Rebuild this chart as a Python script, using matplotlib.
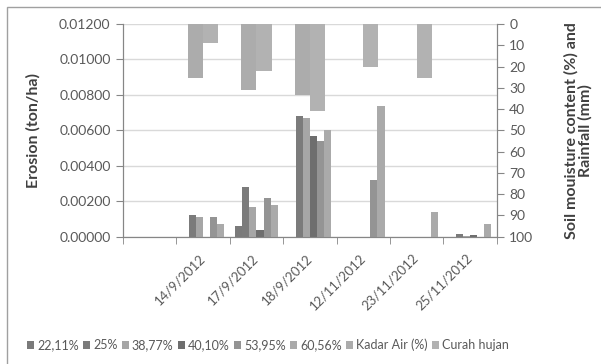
import matplotlib.pyplot as plt
import matplotlib.patches as mpatches
import numpy as np

plt.rcParams['font.family'] = ['Lato', 'DejaVu Sans']

# dates (first category is left empty)
dates = ['', '14/9/2012', '17/9/2012', '18/9/2012', '12/11/2012', '23/11/2012', '25/11/2012']

# erosion (ton/ha) per slope treatment
e_2211 = [0, 0, 0.0006, 0, 0, 0, 0]
e_25 = [0, 0.0012, 0.0028, 0.0068, 0, 0, 0.00013]
e_3877 = [0, 0.0011, 0.0017, 0.0067, 0, 0, 0.00005]
e_4010 = [0, 0, 0.00036, 0.0057, 0, 0, 0.0001]
e_5395 = [0, 0.0011, 0.0022, 0.0054, 0.0032, 0, 0]
e_6056 = [0, 0.0007, 0.0018, 0.0060, 0.0074, 0.0014, 0.0007]

# secondary axis: soil moisture (%) and rainfall (mm)
kadar_air = [0, 25.5, 31, 33.5, 0, 0, 0]
curah_hujan = [0, 9, 22, 41, 20, 25.5, 0]

erosion = [e_2211, e_25, e_3877, e_4010, e_5395, e_6056]
erosion_labels = ['22,11%', '25%', '38,77%', '40,10%', '53,95%', '60,56%']
erosion_colors = ['#7a7a7a', '#7b7b7b', '#a6a6a6', '#6e6e6e', '#949494', '#aaaaaa']

fig = plt.figure(figsize=(6.01, 3.64), dpi=100)
ax = fig.add_axes([0.2047, 0.3497, 0.6217, 0.5843])
ax2 = ax.twinx()

x = np.arange(len(dates))
w = 1 / 7.5
handles = []
for i, (vals, lab, col) in enumerate(zip(erosion, erosion_labels, erosion_colors)):
    b = ax.bar(x + (i - 2.5) * w, vals, w, color=col, label=lab, zorder=3)
    handles.append(b)

w2 = 1 / 3.5
b1 = ax2.bar(x - w2 / 2, kadar_air, w2, color='#acacac', label='Kadar Air (%)')
b2 = ax2.bar(x + w2 / 2, curah_hujan, w2, color='#b2b2b2', label='Curah hujan')
handles += [b1, b2]

grey = '#868686'
txt = '#595959'

ax.set_xlim(-0.5, 6.5)
ax.set_ylim(0, 0.012)
ax.set_yticks(np.arange(0, 0.0121, 0.002))
ax.set_yticklabels(['%.5f' % v for v in np.arange(0, 0.0121, 0.002)])
ax.yaxis.grid(True, color='#d9d9d9', linewidth=1, zorder=0)
ax.set_axisbelow(True)

ax.set_xticks(x)
ax.set_xticklabels(dates, rotation=45, ha='right', va='center', rotation_mode='anchor')
ax.set_xticks(np.arange(-0.5, 7, 1), minor=True)
ax.tick_params(axis='x', which='major', length=0, pad=14, labelsize=9.5, labelcolor=txt)
ax.tick_params(axis='x', which='minor', length=5, color=grey, direction='out')
ax.tick_params(axis='y', length=5, color=grey, labelsize=10, labelcolor=txt, pad=4)

ax2.set_ylim(100, 0)
ax2.set_yticks(np.arange(0, 101, 10))
ax2.tick_params(axis='y', length=5, color=grey, labelsize=10, labelcolor=txt, pad=4)

for a in (ax, ax2):
    a.spines['top'].set_visible(False)
    for s in ('left', 'right', 'bottom'):
        a.spines[s].set_color(grey)
        a.spines[s].set_linewidth(0.8)

fig.text(0.055, 0.642, 'Erosion (ton/ha)', rotation=90, ha='center', va='center',
         fontsize=11.5, fontweight='bold', color='#404040')
fig.text(0.963, 0.642, 'Soil mouisture content (%) and\nRainfall (mm)', rotation=90,
         ha='center', va='center', multialignment='center',
         fontsize=11.5, fontweight='bold', color='#404040', linespacing=0.95)

fig.legend(handles=handles, loc='center', bbox_to_anchor=(0.446, 0.052), ncol=8,
           frameon=False, fontsize=9, handlelength=0.55, handleheight=0.55,
           handletextpad=0.25, columnspacing=0.35, labelcolor=txt, borderpad=0)

# chart border
fig.patches.append(mpatches.Rectangle((7 / 601, -0.2), 1.2, 0.2 + (364 - 7) / 364,
                                      transform=fig.transFigure, fill=False,
                                      edgecolor='#a0a0a0', linewidth=1))

fig.savefig('out.png', dpi=100)
